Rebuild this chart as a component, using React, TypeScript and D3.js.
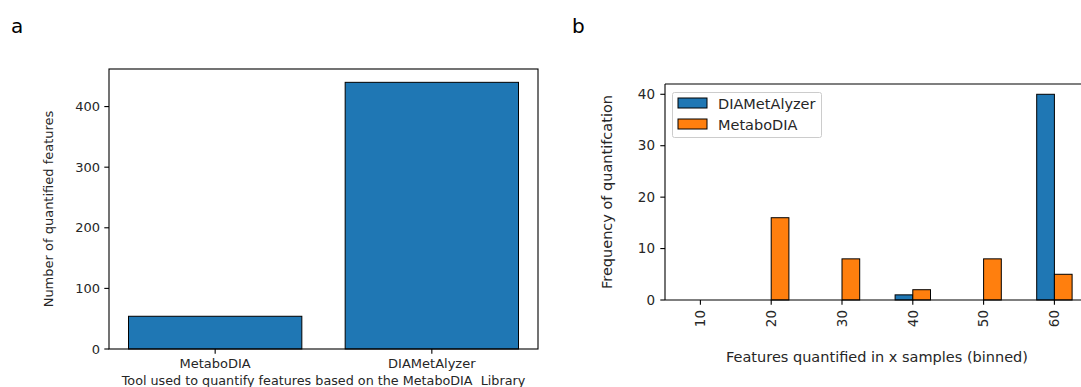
import React from "react";
import * as d3 from "d3";

const toolCategories = ["MetaboDIA", "DIAMetAlyzer"];
const toolCounts = [54, 440];
const toolTicks = [0, 100, 200, 300, 400];

const binLabels = ["10", "20", "30", "40", "50", "60"];
const seriesNames = ["DIAMetAlyzer", "MetaboDIA"];
const diaMetAlyzerFreq = [0, 0, 0, 1, 0, 40];
const metaboDiaFreq = [0, 16, 8, 2, 8, 5];
const freqTicks = [0, 10, 20, 30, 40];

const BLUE = "#1f77b4";
const ORANGE = "#ff7f0e";
const FONT = "DejaVu Sans, sans-serif";
const TXT = "#262626";

export default function App() {
  // Panel a
  const ax = d3.scaleLinear().domain([-0.49, 1.49]).range([109, 538]);
  const ay = d3.scaleLinear().domain([0, 462]).range([349, 69]);
  const barW = 0.8;

  // Panel b
  const bx = d3.scaleLinear().domain([-0.5, 5.5]).range([665, 1089.8]);
  const by = d3.scaleLinear().domain([0, 42]).range([300, 84]);
  const bw = 0.25;
  const series = [diaMetAlyzerFreq, metaboDiaFreq];
  const colors = [BLUE, ORANGE];
  const bFont = 14.5;

  return (
    <svg
      width={1081}
      height={387}
      style={{ position: "absolute", left: 0, top: 0, background: "white" }}
      fontFamily={FONT}
    >
      <rect width={1081} height={387} fill="white" />
      <text x={11} y={33} fontSize={20} fill="#000">a</text>
      <text x={572} y={33} fontSize={20} fill="#000">b</text>

      {/* Panel a */}
      <g>
        {toolCounts.map((v, i) => (
          <rect
            key={i}
            x={ax(i - barW / 2)}
            y={ay(v)}
            width={ax(i + barW / 2) - ax(i - barW / 2)}
            height={ay(0) - ay(v)}
            fill={BLUE}
            stroke="#000"
            strokeWidth={1}
          />
        ))}
        <rect
          x={ax.range()[0]}
          y={ay.range()[1]}
          width={ax.range()[1] - ax.range()[0]}
          height={ay.range()[0] - ay.range()[1]}
          fill="none"
          stroke="#000"
          strokeWidth={1.1}
        />
        {toolTicks.map((t) => (
          <g key={t}>
            <line x1={109} x2={104.3} y1={ay(t)} y2={ay(t)} stroke="#000" strokeWidth={1.1} />
            <text x={100} y={ay(t)} dy="0.35em" textAnchor="end" fontSize={13} fill={TXT}>
              {t}
            </text>
          </g>
        ))}
        {toolCategories.map((c, i) => (
          <g key={c}>
            <line x1={ax(i)} x2={ax(i)} y1={349} y2={353.7} stroke="#000" strokeWidth={1.1} />
            <text x={ax(i)} y={368} textAnchor="middle" fontSize={13} fill={TXT}>
              {c}
            </text>
          </g>
        ))}
        <text
          x={(ax.range()[0] + ax.range()[1]) / 2}
          y={385}
          textAnchor="middle"
          fontSize={12.75}
          fill={TXT}
          style={{ whiteSpace: "pre" }}
        >
          {"Tool used to quantify features based on the MetaboDIA  Library"}
        </text>
        <text
          transform={`translate(53,${(ay.range()[0] + ay.range()[1]) / 2}) rotate(-90)`}
          textAnchor="middle"
          fontSize={13}
          fill={TXT}
        >
          Number of quantified features
        </text>
      </g>

      {/* Panel b */}
      <g>
        {series.map((vals, s) =>
          vals.map((v, i) => {
            const x0 = s === 0 ? i - bw : i;
            return (
              <rect
                key={`${s}-${i}`}
                x={bx(x0)}
                y={by(v)}
                width={bx(x0 + bw) - bx(x0)}
                height={by(0) - by(v)}
                fill={colors[s]}
                stroke="#000"
                strokeWidth={1}
              />
            );
          })
        )}
        <line x1={665} x2={1081} y1={84} y2={84} stroke="#000" strokeWidth={1.1} />
        <line x1={665} x2={665} y1={84} y2={300} stroke="#000" strokeWidth={1.1} />
        <line x1={665} x2={1081} y1={300} y2={300} stroke="#000" strokeWidth={1.1} />
        {freqTicks.map((t) => (
          <g key={t}>
            <line x1={665} x2={660.3} y1={by(t)} y2={by(t)} stroke="#000" strokeWidth={1.1} />
            <text x={655} y={by(t)} dy="0.35em" textAnchor="end" fontSize={13.5} fill={TXT}>
              {t}
            </text>
          </g>
        ))}
        {binLabels.map((l, i) => (
          <g key={l}>
            <line x1={bx(i)} x2={bx(i)} y1={300} y2={304.7} stroke="#000" strokeWidth={1.1} />
            <text
              transform={`translate(${bx(i)},310) rotate(-90)`}
              textAnchor="end"
              dy="0.35em"
              fontSize={13.5}
              fill={TXT}
            >
              {l}
            </text>
          </g>
        ))}
        <text x={877} y={362} textAnchor="middle" fontSize={bFont} fill={TXT}>
          Features quantified in x samples (binned)
        </text>
        <text
          transform={`translate(612,${(by.range()[0] + by.range()[1]) / 2}) rotate(-90)`}
          textAnchor="middle"
          fontSize={bFont}
          fill={TXT}
        >
          Frequency of quantifcation
        </text>
        {/* Legend */}
        <rect x={672.5} y={92.5} width={149} height={45} rx={2} fill="white" fillOpacity={0.8} stroke="#cccccc" strokeWidth={1} />
        {seriesNames.map((n, i) => (
          <g key={n}>
            <rect x={678} y={98 + i * 21} width={29} height={10} fill={colors[i]} stroke="#000" strokeWidth={1} />
            <text x={718} y={103.5 + i * 21} dy="0.35em" fontSize={bFont} fill={TXT}>
              {n}
            </text>
          </g>
        ))}
      </g>
    </svg>
  );
}
